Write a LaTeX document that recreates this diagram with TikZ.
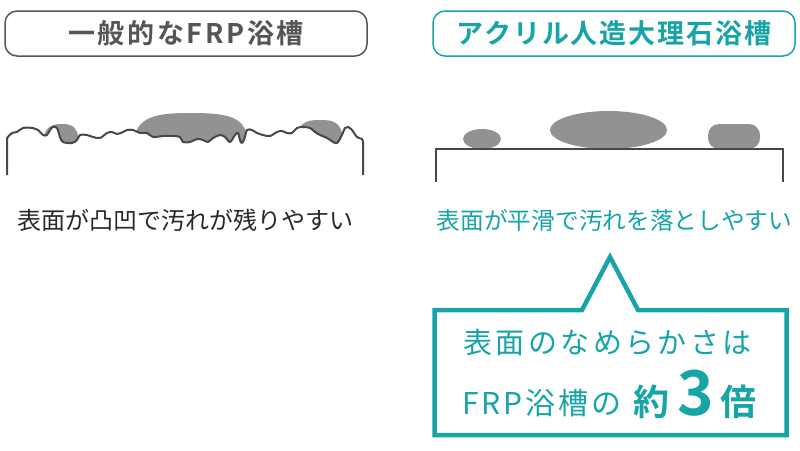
\documentclass[tikz,border=0pt]{standalone}
\usepackage{fontspec}
\setmainfont{Noto Sans CJK JP}[BoldFont={Noto Sans CJK JP Bold}]
\definecolor{teal1}{RGB}{22,164,166}
\definecolor{stain}{RGB}{146,146,146}
\definecolor{lineg}{RGB}{72,72,72}
\definecolor{titleg}{RGB}{85,85,85}
\definecolor{capk}{RGB}{40,40,40}
\tikzset{
  wave/.style={insert path={-- plot[smooth,tension=0.55] coordinates {
    (7,138) (12,133) (17,132) (23,128) (33,128) (38,130) (43,135) (47,135) (50,130) (53,127) (57,128) (60,137) (63,142) (72,143) (77,140) (80,135) (87,135) (93,137) (100,138) (107,133) (112,132) (117,134) (123,132) (127,130) (133,130) (140,133) (147,133) (153,137) (163,136) (173,136) (180,137) (183,142) (190,142) (197,139) (203,140) (208,142) (213,138) (220,135) (225,137) (230,142) (235,135) (238,133) (240,140) (242,143) (245,137) (247,130) (252,130) (257,133) (263,135) (270,136) (277,132) (282,131) (287,133) (292,133) (297,128) (303,127) (310,128) (315,132) (320,135) (327,138) (335,143) (338,142) (342,135) (345,128) (348,127) (352,130) (357,137) (362,139) (363,142)}}},
  titlebox/.style={draw, rounded corners=12pt, line width=1.5pt, minimum width=362pt, minimum height=45pt, inner sep=0pt, font=\fontsize{27}{30}\selectfont\bfseries},
  caption/.style={inner sep=0pt, font=\fontsize{24}{28}\selectfont},
  blob/.style={fill=stain, draw=none},
  callout/.style={draw=teal1, line width=4.5pt, line join=miter},
}
\begin{document}
\begin{tikzpicture}[x=1pt,y=-1pt]
\useasboundingbox (0,0) rectangle (800,450);
% titles
\node[titlebox, draw=titleg, text=titleg] (t1) at (186,33.5) {\addfontfeature{LetterSpace=10}一般的なFRP浴槽};
\node[titlebox, draw=teal1, text=teal1] (t2) at (614,33.5) {\addfontfeature{LetterSpace=7}アクリル人造大理石浴槽};
% rough surface stains
\begin{scope}
  \clip (0,0) -- (0,138) -- (7,138) [wave] -- (363,142) -- (400,142) -- (400,0) -- cycle;
  \fill[blob] (42,150) .. controls (43,127) and (50,124) .. (62,124) .. controls (74,124) and (79,128) .. (80,150) -- cycle;
  \fill[blob] (132,150) .. controls (134,118) and (150,113) .. (190,113) .. controls (235,113) and (248,118) .. (249,150) -- cycle;
  \fill[blob] (294,150) .. controls (296,122) and (305,120) .. (320,120) .. controls (338,120) and (343,124) .. (344,150) -- cycle;
\end{scope}
\draw[lineg, line width=2pt, line join=round] (7,175) -- (7,138) [wave] -- (363,175);
% smooth surface
\fill[blob] (482,139) ellipse [x radius=19, y radius=10];
\fill[blob] (608.5,130) ellipse [x radius=58.5, y radius=19];
\fill[blob, rounded corners=11pt] (708,124) rectangle (760,149);
\draw[lineg, line width=1.8pt] (436,182) -- (436,149.3) -- (783,149.3) -- (783,182);
% captions
\node[caption, text=capk] (c1) at (185.5,220) {表面が凸凹で汚れが残りやすい};
\node[caption, text=teal1, font=\fontsize{23.7}{28}\selectfont] (c2) at (614.5,220) {表面が平滑で汚れを落としやすい};
% callout
\draw[callout] (434.5,310) -- (582,310) -- (610,257) -- (638,310) -- (786.5,310) -- (786.5,435) -- (434.5,435) -- cycle;
\node[inner sep=0pt, text=teal1, font=\fontsize{29}{32}\selectfont] (l1) at (607.5,342.5) {\addfontfeature{LetterSpace=12}表面のなめらかさは};
\node[inner sep=0pt, anchor=base west, text=teal1, font=\fontsize{30}{32}\selectfont] (l2) at (462,414) {\addfontfeature{LetterSpace=10}FRP浴槽の};
\node[inner sep=0pt, anchor=base west, text=teal1, font=\fontsize{36}{40}\selectfont\bfseries] (l3) at (633,415) {約};
\node[inner sep=0pt, anchor=base west, text=teal1, font=\fontsize{62}{64}\selectfont\bfseries] (l4) at (677,415) {3};
\node[inner sep=0pt, anchor=base west, text=teal1, font=\fontsize{36}{40}\selectfont\bfseries] (l5) at (720,415) {倍};
\end{tikzpicture}
\end{document}
